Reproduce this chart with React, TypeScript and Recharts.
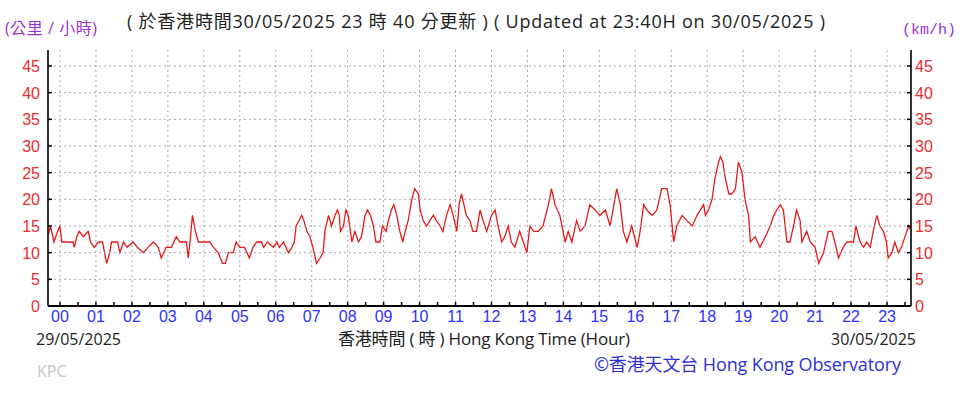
import React from 'react';
import { LineChart, Line, XAxis, YAxis, CartesianGrid } from 'recharts';

// minutes from 00:00 on 29/05/2025, wind speed km/h
const minutes = [
  -20, -16, -10, -4, 0, 3, 22, 24, 28, 32, 39, 47, 51, 57, 64, 71, 76, 78, 83, 86, 96, 100, 106, 112, 122, 129, 139, 147, 156, 164, 169, 177, 186, 194, 200, 211, 214, 217, 221, 226, 231, 250, 256, 264, 271, 276, 281, 289, 294, 300, 308, 316, 322, 328, 336, 340, 346,
  356, 362, 366, 373, 381, 387, 391, 394, 399, 403, 407, 412, 417, 422, 426, 428, 434, 439, 442, 448, 453, 459, 463, 466, 468, 473, 477, 481, 487, 492, 498, 503, 509, 513, 518, 523, 527, 534, 538, 544, 548, 553, 557, 562, 567, 572, 576, 581, 587, 592, 598, 601, 606, 612, 617, 623, 628, 634, 639, 645, 651, 656, 662, 666, 670, 674, 678, 684, 689, 695, 701, 706, 712,
  720, 726, 731, 737, 742, 748, 753, 759, 767, 773, 779, 784, 790, 798, 806, 815, 820, 826, 834, 843, 848, 854, 862, 868, 876, 884, 893, 901, 910, 918, 929, 935, 940, 946, 954, 963, 968, 974, 979, 988, 996, 1004, 1013, 1018, 1024, 1029, 1038, 1046, 1055, 1063, 1074,
  1077, 1082, 1088, 1093, 1099, 1102, 1106, 1110, 1116, 1121, 1127, 1132, 1138, 1143, 1149, 1152, 1160, 1168, 1177, 1185, 1191, 1196, 1202, 1207, 1213, 1218, 1224, 1229, 1235, 1238, 1246, 1252, 1260, 1266, 1274, 1282, 1288, 1293, 1299, 1307, 1313, 1324, 1328, 1335, 1341, 1346, 1352, 1357, 1363, 1368, 1374, 1379, 1382, 1388, 1393, 1399, 1404, 1410, 1416, 1420,
];
const speeds = [
  13, 15, 12, 14, 15, 12, 12, 11, 13, 14, 13, 14, 12, 11, 12, 12, 9, 8, 10, 12, 12, 10, 12, 11, 12, 11, 10, 11, 12, 11, 9, 11, 11, 13, 12, 12, 9, 12, 17, 14, 12, 12, 11, 10, 8, 8, 10, 10, 12, 11, 11, 9, 11, 12, 12, 11, 12,
  11, 12, 11, 12, 10, 11, 12, 15, 16, 17, 16, 14, 13, 11, 9, 8, 9, 10, 14, 17, 15, 17, 18, 17, 14, 15, 18, 17, 12, 14, 12, 13, 17, 18, 17, 15, 12, 12, 15, 14, 16, 18, 19, 17, 14, 12, 14, 16, 20, 22, 21, 18, 16, 15, 16, 17, 16, 15, 14, 17, 19, 17, 14, 19, 21, 19, 17, 16, 14, 14, 18, 16, 14,
  17, 18, 15, 12, 13, 15, 12, 11, 14, 12, 10, 15, 14, 14, 15, 19, 22, 19, 17, 12, 14, 12, 16, 14, 15, 19, 18, 17, 18, 15, 22, 19, 14, 12, 15, 11, 14, 19, 18, 17, 18, 22, 22, 19, 12, 15, 17, 16, 15, 17, 19,
  17, 18, 20, 24, 27, 28, 27, 24, 21, 21, 22, 27, 25, 20, 17, 12, 13, 11, 13, 15, 17, 18, 19, 18, 12, 12, 15, 18, 16, 12, 14, 12, 11, 8, 10, 14, 14, 12, 9, 11, 12, 12, 15, 12, 11, 12, 11, 14, 17, 15, 14, 12, 9, 10, 12, 10, 11, 13, 15, 14,
];

const hourTicks = [0, 60, 120, 180, 240, 300, 360, 420, 480, 540, 600, 660, 720, 780, 840, 900, 960, 1020, 1080, 1140, 1200, 1260, 1320, 1380];
const hourLabels = ['00', '01', '02', '03', '04', '05', '06', '07', '08', '09', '10', '11', '12', '13', '14', '15', '16', '17', '18', '19', '20', '21', '22', '23'];
const speedTicks = [0, 5, 10, 15, 20, 25, 30, 35, 40, 45];

const allXTicks = [...hourTicks, ...hourTicks.map((t) => t + 30)].sort((a, b) => a - b);

const rows = minutes.map((m, i) => ({ m, v: speeds[i] }));

const RED = '#ee2b2b';
const BLUE = '#3030ff';
const PURPLE = '#9b30d0';
const GRID = '#a8a8a8';
const PLOT_W = 863;

const XTick = (props: any) => {
  const { x, y, payload } = props;
  const idx = hourTicks.indexOf(payload.value);
  return (
    <g>
      <line x1={x} x2={x} y1={y} y2={y - 4} stroke="#000" strokeWidth={1.5} />
      {idx >= 0 && (
        <text x={x} y={y + 16} textAnchor="middle" fill={BLUE} fontSize={16} fontFamily="Liberation Sans, Arial, sans-serif">
          {hourLabels[idx]}
        </text>
      )}
    </g>
  );
};

const LeftTick = (props: any) => {
  const { x, y, payload } = props;
  return (
    <g>
      {payload.value > 0 && (
        <line x1={x + 9} x2={x + 8 + PLOT_W} y1={y} y2={y} stroke={GRID} strokeWidth={1} strokeDasharray="2 3" />
      )}
      <line x1={x + 8} x2={x + 12} y1={y} y2={y} stroke="#000" strokeWidth={1.5} />
      <text x={x} y={y + 6} textAnchor="end" fill={RED} fontSize={16} fontFamily="Liberation Sans, Arial, sans-serif">
        {payload.value}
      </text>
    </g>
  );
};

const RightTick = (props: any) => {
  const { x, y, payload } = props;
  return (
    <g>
      <line x1={x - 4} x2={x - 8} y1={y} y2={y} stroke="#000" strokeWidth={1.5} />
      <text x={x} y={y + 6} textAnchor="start" fill={RED} fontSize={16} fontFamily="Liberation Sans, Arial, sans-serif">
        {payload.value}
      </text>
    </g>
  );
};

const TXT = 'Open Sans, Noto Sans CJK TC, sans-serif';

export default function App() {
  return (
    <div style={{ position: 'absolute', left: 0, top: 0, width: 975, height: 398, background: '#fff' }}>
      <LineChart width={975} height={398} data={rows} margin={{ top: 50, right: 24, bottom: 62, left: 8 }}>
        <CartesianGrid stroke={GRID} strokeDasharray="2 3" horizontal={false} vertical={true} verticalValues={hourTicks} />
        <XAxis
          dataKey="m"
          type="number"
          domain={[-20, 1420]}
          ticks={allXTicks}
          interval={0}
          tick={<XTick />}
          tickLine={false}
          tickSize={0}
          tickMargin={0}
          axisLine={{ stroke: '#000', strokeWidth: 2 }}
          height={30}
          allowDataOverflow
        />
        <YAxis
          type="number"
          domain={[0, 48]}
          ticks={speedTicks}
          interval={0}
          tick={<LeftTick />}
          tickLine={false}
          tickSize={0}
          tickMargin={8}
          axisLine={{ stroke: '#333', strokeWidth: 2 }}
          width={40}
          allowDataOverflow
        />
        <YAxis
          yAxisId="right"
          type="number"
          orientation="right"
          domain={[0, 48]}
          ticks={speedTicks}
          interval={0}
          tick={<RightTick />}
          tickLine={false}
          tickSize={0}
          tickMargin={4}
          axisLine={{ stroke: '#333', strokeWidth: 2 }}
          width={40}
          allowDataOverflow
        />
        <Line type="linear" dataKey="v" stroke="#e41a1a" strokeWidth={1.3} dot={false} isAnimationActive={false} />
      </LineChart>
      <svg width={975} height={398} style={{ position: 'absolute', left: 0, top: 0, pointerEvents: 'none' }}>
        <text x={5} y={34} fill={PURPLE} fontSize={16} fontFamily={TXT} textLength={92} lengthAdjust="spacing">(公里 / 小時)</text>
        <text x={127} y={28} fill="#222" fontSize={18} fontFamily={TXT} textLength={698} lengthAdjust="spacing">
          ( 於香港時間30/05/2025 23 時 40 分更新 ) ( Updated at 23:40H on 30/05/2025 )
        </text>
        <text x={902} y={34} fill={PURPLE} fontSize={15} fontFamily="Liberation Mono, monospace">(km/h)</text>
        <text x={36} y={345} fill="#222" fontSize={16} fontFamily={TXT}>29/05/2025</text>
        <text x={338} y={345} fill="#222" fontSize={17} fontFamily={TXT} textLength={292} lengthAdjust="spacing">香港時間 ( 時 ) Hong Kong Time (Hour)</text>
        <text x={916} y={345} textAnchor="end" fill="#222" fontSize={16} fontFamily={TXT}>30/05/2025</text>
        <text x={594} y={371} fill="#2f2fd8" fontSize={18} fontFamily={TXT} textLength={307} lengthAdjust="spacing">©香港天文台 Hong Kong Observatory</text>
        <text x={37} y={377} fill="#c8c8c8" fontSize={16} fontFamily={TXT}>KPC</text>
      </svg>
    </div>
  );
}
